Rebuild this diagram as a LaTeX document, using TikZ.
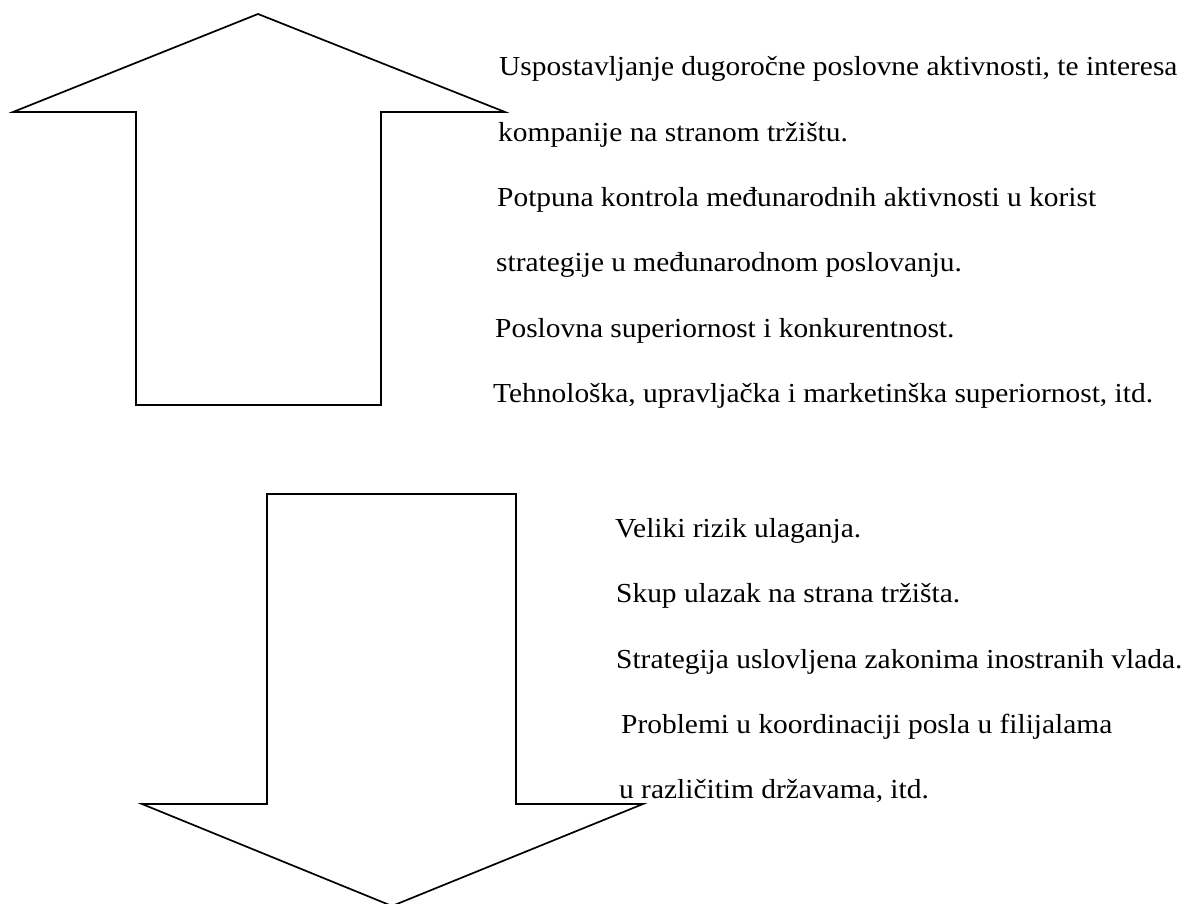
\documentclass[tikz,border=0pt]{standalone}
\usepackage{fontspec}
\setmainfont[FakeStretch=1.07]{Liberation Serif}
\usetikzlibrary{positioning}

\begin{document}
\begin{tikzpicture}[x=1pt, y=-1pt,
    blockarrow/.style={draw, line width=1.7pt, line join=miter},
    txt/.style={anchor=base west, inner sep=0pt, font=\fontsize{27.5}{33}\selectfont}]
\useasboundingbox (0,0) rectangle (1184,904);

% up arrow
\coordinate (uptip) at (258,14);
\draw[blockarrow] (uptip) -- (505,112) -- (381,112) -- (381,405)
    -- (136,405) -- (136,112) -- (13,112) -- cycle;
\node[txt] (adv1) at (499,76) {Uspostavljanje dugoročne poslovne aktivnosti, te interesa};
\node[txt] (adv2) at (498,142) {kompanije na stranom tržištu.};
\node[txt] (adv3) at (497,207) {Potpuna kontrola međunarodnih aktivnosti u korist};
\node[txt] (adv4) at (496,272) {strategije u međunarodnom poslovanju.};
\node[txt] (adv5) at (495,337) {Poslovna superiornost i konkurentnost.};
\node[txt] (adv6) at (493,402) {Tehnološka, upravljačka i marketinška superiornost, itd.};

% down arrow
\coordinate (dntip) at (392,906);
\draw[blockarrow] (267,494) -- (516,494) -- (516,804) -- (643,804)
    -- (dntip) -- (142,804) -- (267,804) -- cycle;
\node[txt] (dis1) at (615,537) {Veliki rizik ulaganja.};
\node[txt] (dis2) at (616,602) {Skup ulazak na strana tržišta.};
\node[txt] (dis3) at (616,668) {Strategija uslovljena zakonima inostranih vlada.};
\node[txt] (dis4) at (621,733) {Problemi u koordinaciji posla u filijalama};
\node[txt] (dis5) at (619,798) {u različitim državama, itd.};
%\node[below=0mm of dis5] {};
\end{tikzpicture}
\end{document}
